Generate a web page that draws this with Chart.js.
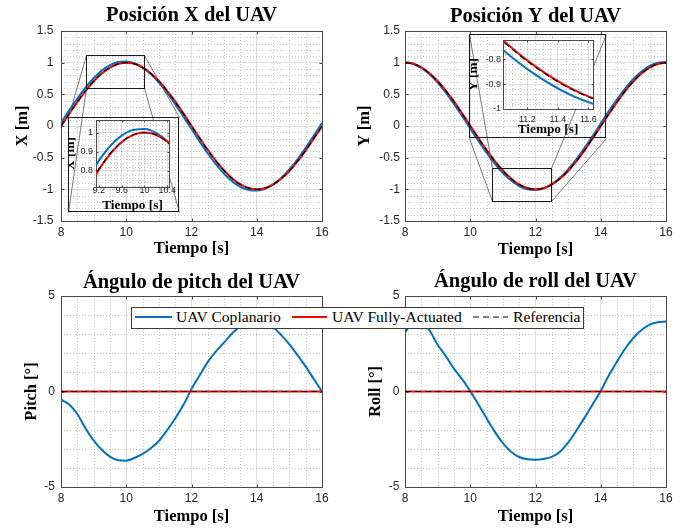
<!DOCTYPE html>
<html lang="es">
<head>
<meta charset="utf-8">
<title>Posición y ángulos del UAV</title>
<script src="https://cdn.jsdelivr.net/npm/chart.js@4.4.1/dist/chart.umd.min.js"></script>
<style>
html,body{margin:0;padding:0;background:#fff;}
#fig{position:relative;width:683px;height:530px;overflow:hidden;background:#fff;}
#fig canvas{position:absolute;}
#legend{position:absolute;left:131px;top:307px;width:451px;height:20px;border:1px solid #3a3a3a;background:#fff;font-family:"Liberation Serif","Times New Roman",serif;font-size:15.6px;color:#000;}
#legend span{position:absolute;top:-1px;line-height:20px;white-space:nowrap;}
#legend svg{position:absolute;top:0;}
</style>
</head>
<body>
<div id="fig">
<canvas id="cX" width="340" height="260" style="left:0;top:0"></canvas>
<canvas id="cY" width="343" height="260" style="left:340px;top:0"></canvas>
<canvas id="cP" width="340" height="270" style="left:0;top:260px"></canvas>
<canvas id="cR" width="343" height="270" style="left:340px;top:260px"></canvas>
<canvas id="iX" width="10" height="10"></canvas>
<canvas id="iY" width="10" height="10"></canvas>
<div id="legend"></div>
</div>
<script>
// ---------------- data ----------------
const time = [8,8.25,8.5,8.75,9,9.25,9.5,9.75,10,10.25,10.5,10.75,11,11.25,11.5,11.75,12,12.25,12.5,12.75,13,13.25,13.5,13.75,14,14.25,14.5,14.75,15,15.25,15.5,15.75,16];

const refX  = [0,0.195,0.383,0.556,0.707,0.831,0.924,0.981,1,0.981,0.924,0.831,0.707,0.556,0.383,0.195,0,-0.195,-0.383,-0.556,-0.707,-0.831,-0.924,-0.981,-1,-0.981,-0.924,-0.831,-0.707,-0.556,-0.383,-0.195,0];
const fullX = [-0.005,0.190,0.378,0.552,0.703,0.828,0.922,0.980,1.000,0.982,0.926,0.834,0.711,0.560,0.388,0.200,0.005,-0.190,-0.378,-0.552,-0.703,-0.828,-0.922,-0.980,-1.000,-0.982,-0.926,-0.834,-0.711,-0.560,-0.388,-0.200,-0.005];
const copX  = [0.048,0.246,0.434,0.606,0.754,0.874,0.960,1.009,1.019,0.990,0.923,0.820,0.686,0.526,0.345,0.152,-0.048,-0.246,-0.434,-0.606,-0.754,-0.874,-0.960,-1.009,-1.019,-0.990,-0.923,-0.820,-0.686,-0.526,-0.345,-0.152,0.048];

const refY  = [1,0.981,0.924,0.831,0.707,0.556,0.383,0.195,0,-0.195,-0.383,-0.556,-0.707,-0.831,-0.924,-0.981,-1,-0.981,-0.924,-0.831,-0.707,-0.556,-0.383,-0.195,0,0.195,0.383,0.556,0.707,0.831,0.924,0.981,1];
const fullY = [1.000,0.982,0.926,0.834,0.711,0.560,0.388,0.200,0.005,-0.190,-0.378,-0.552,-0.703,-0.828,-0.922,-0.980,-1.000,-0.982,-0.926,-0.834,-0.711,-0.560,-0.388,-0.200,-0.005,0.190,0.378,0.552,0.703,0.828,0.922,0.980,1.000];
const copY  = [1.009,0.982,0.917,0.817,0.686,0.528,0.350,0.158,-0.040,-0.236,-0.423,-0.594,-0.742,-0.861,-0.948,-0.998,-1.009,-0.982,-0.917,-0.817,-0.686,-0.528,-0.350,-0.158,0.040,0.236,0.423,0.594,0.742,0.861,0.948,0.998,1.009];

const refPitch  = [0,0,0,0,0,0,0,0,0,0,0,0,0,0,0,0,0,0,0,0,0,0,0,0,0,0,0,0,0,0,0,0,0];
const fullPitch = [0,0,0,0,0,0,0,0,0,0,0,0,0,0,0,0,0,0,0,0,0,0,0,0,0,0,0,0,0,0,0,0,0];
const copPitch  = [-0.43,-0.68,-1.18,-1.92,-2.56,-3.05,-3.41,-3.60,-3.62,-3.48,-3.27,-2.97,-2.59,-2.03,-1.41,-0.71,0.13,0.85,1.55,2.10,2.57,3.05,3.42,3.65,3.72,3.62,3.38,2.95,2.47,1.90,1.30,0.65,0.0];

const refRoll  = [0,0,0,0,0,0,0,0,0,0,0,0,0,0,0,0,0,0,0,0,0,0,0,0,0,0,0,0,0,0,0,0,0];
const fullRoll = [0,0,0,0,0,0,0,0,0,0,0,0,0,0,0,0,0,0,0,0,0,0,0,0,0,0,0,0,0,0,0,0,0];
const copRoll  = [3.10,3.60,3.62,3.20,2.45,1.85,1.20,0.65,0.02,-0.68,-1.40,-2.10,-2.70,-3.15,-3.43,-3.55,-3.57,-3.53,-3.42,-3.15,-2.68,-2.05,-1.38,-0.68,0.03,0.85,1.57,2.25,2.80,3.22,3.50,3.63,3.66];

// ---------------- ticks & labels ----------------
const timeTicks = [8,10,12,14,16];
const posTicks = [-1.5,-1,-0.5,0,0.5,1,1.5];
const angleTicks = [-5,0,5];
const insetXTimeTicks = [9.2,9.6,10,10.4];
const insetXValTicks = [0.8,0.9,1];
const insetYTimeTicks = [11.2,11.4,11.6];
const insetYValTicks = [-1,-0.9,-0.8];

const titles = ['Posición X del UAV','Posición Y del UAV','Ángulo de pitch del UAV','Ángulo de roll del UAV'];
const yLabels = ['X [m]','Y [m]','Pitch [°]','Roll [°]'];
const xLabel = 'Tiempo [s]';
const seriesNames = ['UAV Coplanario','UAV Fully-Actuated','Referencia'];
const seriesColors = ['#0072bd','#ff0000','#000000'];

// ---------------- helpers ----------------
Chart.defaults.font.family = "'Liberation Sans', Arial, sans-serif";
Chart.defaults.color = '#262626';
const SERIF = "'Liberation Serif', 'Times New Roman', serif";

function pts(arr){ return time.map((t,i)=>({x:t, y:arr[i]})); }

function minorVals(min, max, step, majors){
  const out = [];
  for (let k = Math.ceil(min/step - 1e-9); k*step <= max + 1e-9; k++){
    const v = k*step;
    if (majors.some(m => Math.abs(m - v) < step*1e-3)) continue;
    if (Math.abs(v-min) < 1e-9 || Math.abs(v-max) < 1e-9) continue;
    out.push(v);
  }
  return out;
}

function mlPlugin(spec){
  return {
    id:'ml',
    beforeDraw(chart){
      if (!spec.inset) return;
      const {ctx, chartArea:a} = chart;
      ctx.save();
      ctx.fillStyle = '#fff';
      ctx.fillRect(a.left, a.top, a.right-a.left, a.bottom-a.top);
      ctx.strokeStyle = '#1a1a1a'; ctx.lineWidth = 1;
      ctx.strokeRect(0.5, 0.5, chart.width-1, chart.height-1);
      ctx.restore();
    },
    beforeDatasetsDraw(chart){
      const {ctx, chartArea:a, scales:{x, y}} = chart;
      ctx.save();
      ctx.lineWidth = 1;
      ctx.strokeStyle = 'rgba(38,38,38,0.24)';
      ctx.setLineDash([1,2]);
      ctx.beginPath();
      for (const v of minorVals(x.min, x.max, spec.xMinor, spec.xTicks)){
        const p = Math.round(x.getPixelForValue(v)) + 0.5;
        ctx.moveTo(p, a.top); ctx.lineTo(p, a.bottom);
      }
      for (const v of minorVals(y.min, y.max, spec.yMinor, spec.yTicks)){
        const p = Math.round(y.getPixelForValue(v)) + 0.5;
        ctx.moveTo(a.left, p); ctx.lineTo(a.right, p);
      }
      ctx.stroke();
      ctx.setLineDash([]);
      const L = Math.round(a.left)+0.5, R = Math.round(a.right)+0.5, T = Math.round(a.top)+0.5, B = Math.round(a.bottom)+0.5;
      ctx.strokeStyle = '#4a4a4a';
      ctx.strokeRect(L, T, R-L, B-T);
      const tl = spec.tickLen;
      ctx.beginPath();
      for (const v of spec.xTicks){
        const p = Math.round(x.getPixelForValue(v)) + 0.5;
        ctx.moveTo(p, B); ctx.lineTo(p, B-tl);
        ctx.moveTo(p, T); ctx.lineTo(p, T+tl);
      }
      for (const v of spec.yTicks){
        const p = Math.round(y.getPixelForValue(v)) + 0.5;
        ctx.moveTo(L, p); ctx.lineTo(L+tl, p);
        ctx.moveTo(R, p); ctx.lineTo(R-tl, p);
      }
      ctx.stroke();
      ctx.restore();
    },
    afterDatasetsDraw(chart){
      if (!spec.zoom) return;
      const {ctx, scales:{x, y}} = chart;
      const P = (vx, vy) => [Math.round(x.getPixelForValue(vx))+0.5, Math.round(y.getPixelForValue(vy))+0.5];
      const [bx0,bx1,by0,by1] = spec.zoom.box;
      const [fx0,fx1,fy0,fy1] = spec.zoom.frame;
      const b = [P(bx0,by1), P(bx1,by1), P(bx0,by0), P(bx1,by0)];
      const f = [P(fx0,fy1), P(fx1,fy1), P(fx0,fy0), P(fx1,fy0)];
      ctx.save();
      ctx.strokeStyle = '#555'; ctx.lineWidth = 0.8;
      ctx.beginPath();
      for (let i=0;i<4;i++){ ctx.moveTo(b[i][0], b[i][1]); ctx.lineTo(f[i][0], f[i][1]); }
      ctx.stroke();
      ctx.strokeStyle = '#1a1a1a'; ctx.lineWidth = 1;
      ctx.strokeRect(b[0][0], b[0][1], b[1][0]-b[0][0], b[2][1]-b[0][1]);
      ctx.restore();
    }
  };
}

function makeChart(canvas, s){
  const lineDs = (label, arr, color, w, dash) => ({
    label, data: pts(arr), borderColor: color, borderWidth: w, borderDash: dash || [],
    pointRadius: 0, fill: false, cubicInterpolationMode: 'monotone'
  });
  const tickF = {family:"'Liberation Sans', Arial, sans-serif", size:s.tickSize, lineHeight:s.tickLH};
  const titleF = {family:SERIF, size:s.labelSize, weight:'bold', lineHeight:s.labelLH};
  return new Chart(canvas, {
    type:'line',
    data:{ datasets:[
      lineDs(seriesNames[2], s.ref, seriesColors[2], s.inset?1.1:1.2, [6,4]),
      lineDs(seriesNames[1], s.full, seriesColors[1], 2),
      lineDs(seriesNames[0], s.cop, seriesColors[0], 2)
    ]},
    options:{
      responsive:false, animation:false, events:[],
      layout:{padding:{left:0, top:s.padTop||0, right:s.padRight, bottom:0}},
      plugins:{
        legend:{display:false}, tooltip:{enabled:false},
        title: s.title ? {display:true, text:s.title, fullSize:false, color:'#000',
          font:{family:SERIF, size:20.5, weight:'bold', lineHeight:1.2},
          padding:{top:s.tPT, bottom:s.tPB}} : {display:false}
      },
      scales:{
        x:{ type:'linear', position:'bottom', min:s.xMin, max:s.xMax, bounds:'data',
          afterBuildTicks: sc => { sc.ticks = s.xTicks.map(v=>({value:v})); },
          afterFit: sc => { sc.height = s.xAxisH; sc.paddingLeft = 0; sc.paddingRight = 0; sc.paddingTop = 0; sc.paddingBottom = 0; },
          ticks:{ font:tickF, color:'#262626', padding:s.xTickPad, autoSkip:false, maxRotation:0, minRotation:0, callback: v => String(v) },
          grid:{ color:'rgba(38,38,38,0.15)', lineWidth:1, drawTicks:false },
          border:{ display:false },
          title:{ display:true, text:xLabel, color:'#000', font:titleF, padding:{top:0, bottom:s.xTitlePB} }
        },
        y:{ type:'linear', position:'left', min:s.yMin, max:s.yMax, bounds:'data',
          afterBuildTicks: sc => { sc.ticks = s.yTicks.map(v=>({value:v})); },
          afterFit: sc => { sc.width = s.yAxisW; sc.paddingLeft = 0; sc.paddingRight = 0; sc.paddingTop = 0; sc.paddingBottom = 0; },
          ticks:{ font:tickF, color:'#262626', padding:s.yTickPad, autoSkip:false, callback: v => String(v) },
          grid:{ color:'rgba(38,38,38,0.15)', lineWidth:1, drawTicks:false },
          border:{ display:false },
          title:{ display:true, text:s.yLabel, color:'#000', font:titleF, padding:{top:s.yTitlePT, bottom:0} }
        }
      }
    },
    plugins:[mlPlugin(s)]
  });
}

const mainBase = {xMin:8, xMax:16, xTicks:timeTicks, xMinor:0.5, tickSize:12, tickLH:1.2, labelSize:16.5, labelLH:1.2, tickLen:3};

const zoomX = {box:[8.77,10.54,0.60,1.12], frame:[8.215,11.617,-1.358,0.142]};
const zoomY = {box:[10.676,12.466,-1.189,-0.668], frame:[9.971,14.161,-0.190,1.448]};

const chX = makeChart(document.getElementById('cX'), Object.assign({}, mainBase, {
  title:titles[0], yLabel:yLabels[0], yMin:-1.5, yMax:1.5, yTicks:posTicks, yMinor:0.1,
  ref:refX, full:fullX, cop:copX,
  yAxisW:61, xAxisH:39, padRight:18, tPT:3.7, tPB:2.7, yTickPad:7.5, xTickPad:4, yTitlePT:12.6, xTitlePB:1.8,
  zoom:zoomX }));
const chY = makeChart(document.getElementById('cY'), Object.assign({}, mainBase, {
  title:titles[1], yLabel:yLabels[1], yMin:-1.5, yMax:1.5, yTicks:posTicks, yMinor:0.1,
  ref:refY, full:fullY, cop:copY,
  yAxisW:65, xAxisH:39, padRight:17, tPT:4.4, tPB:2.0, yTickPad:5, xTickPad:4, yTitlePT:14.6, xTitlePB:0.8,
  zoom:zoomY }));
makeChart(document.getElementById('cP'), Object.assign({}, mainBase, {
  title:titles[2], yLabel:yLabels[2], yMin:-5, yMax:5, yTicks:angleTicks, yMinor:1,
  ref:refPitch, full:fullPitch, cop:copPitch,
  yAxisW:61, xAxisH:43, padRight:18, tPT:10.4, tPB:1.0, yTickPad:6, xTickPad:4.1, yTitlePT:21.8, xTitlePB:3.4 }));
makeChart(document.getElementById('cR'), Object.assign({}, mainBase, {
  title:titles[3], yLabel:yLabels[3], yMin:-5, yMax:5, yTicks:angleTicks, yMinor:1,
  ref:refRoll, full:fullRoll, cop:copRoll,
  yAxisW:65, xAxisH:43, padRight:17, tPT:9.4, tPB:2.0, yTickPad:5.7, xTickPad:4.1, yTitlePT:25.6, xTitlePB:3.4 }));

// ---------------- insets placed through the main charts' scales ----------------
function placeInset(mainChart, mainCanvas, frame, canvas){
  const x = mainChart.scales.x, y = mainChart.scales.y;
  const l = Math.round(x.getPixelForValue(frame[0])), r = Math.round(x.getPixelForValue(frame[1]));
  const t = Math.round(y.getPixelForValue(frame[3])), b = Math.round(y.getPixelForValue(frame[2]));
  canvas.width = r - l; canvas.height = b - t;
  canvas.style.left = (mainCanvas.offsetLeft + l) + 'px';
  canvas.style.top = (mainCanvas.offsetTop + t) + 'px';
}
const insetBase = {inset:true, tickSize:9, tickLH:1, labelSize:13.3, labelLH:1, tickLen:2};

const iX = document.getElementById('iX');
placeInset(chX, document.getElementById('cX'), zoomX.frame, iX);
makeChart(iX, Object.assign({}, insetBase, {
  yLabel:yLabels[0], xMin:9.15, xMax:10.43, xTicks:insetXTimeTicks, xMinor:0.1,
  yMin:0.715, yMax:1.066, yTicks:insetXValTicks, yMinor:0.02,
  ref:refX, full:fullX, cop:copX,
  yAxisW:28, xAxisH:25, padTop:3, padRight:10, yTickPad:3, xTickPad:-1, yTitlePT:-4.2, xTitlePB:0 }));

const iY = document.getElementById('iY');
placeInset(chY, document.getElementById('cY'), zoomY.frame, iY);
makeChart(iY, Object.assign({}, insetBase, {
  yLabel:yLabels[1], xMin:11.04, xMax:11.63, xTicks:insetYTimeTicks, xMinor:0.05,
  yMin:-1.0, yMax:-0.723, yTicks:insetYValTicks, yMinor:0.02,
  ref:refY, full:fullY, cop:copY,
  yAxisW:34, xAxisH:29, padTop:6, padRight:13, yTickPad:2, xTickPad:6, yTitlePT:-1.7, xTitlePB:2 }));

// ---------------- legend ----------------
(function(){
  const lg = document.getElementById('legend');
  const items = [
    {sx:3, sw:37, tx:44, color:seriesColors[0], w:2, dash:null, name:seriesNames[0]},
    {sx:160, sw:35, tx:200, color:seriesColors[1], w:2, dash:null, name:seriesNames[1]},
    {sx:341, sw:35, tx:381, color:seriesColors[2], w:1.2, dash:'6,4', name:seriesNames[2]}
  ];
  const NS = 'http://www.w3.org/2000/svg';
  items.forEach(it => {
    const svg = document.createElementNS(NS, 'svg');
    svg.setAttribute('width', it.sw); svg.setAttribute('height', 20);
    svg.style.left = it.sx + 'px';
    const ln = document.createElementNS(NS, 'line');
    ln.setAttribute('x1', 0); ln.setAttribute('x2', it.sw);
    ln.setAttribute('y1', 9); ln.setAttribute('y2', 9);
    ln.setAttribute('stroke', it.color); ln.setAttribute('stroke-width', it.w);
    if (it.dash) ln.setAttribute('stroke-dasharray', it.dash);
    svg.appendChild(ln); lg.appendChild(svg);
    const sp = document.createElement('span');
    sp.style.left = it.tx + 'px'; sp.textContent = it.name;
    lg.appendChild(sp);
  });
})();
</script>
</body>
</html>
